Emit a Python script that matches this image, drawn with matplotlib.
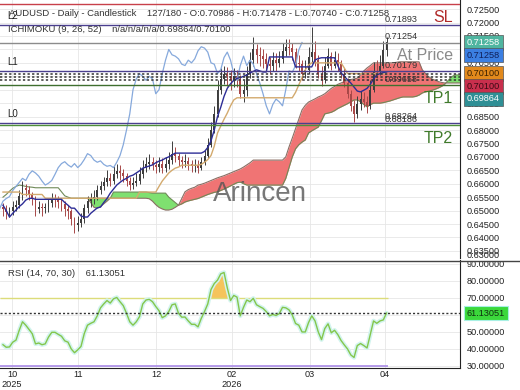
import numpy as np
import matplotlib
matplotlib.use('Agg')
import matplotlib.pyplot as plt
import matplotlib.transforms as mtransforms
from matplotlib.lines import Line2D
from matplotlib.ticker import FormatStrFormatter

plt.rcParams['font.family'] = ['Liberation Sans', 'DejaVu Sans']

# AUDUSD daily candles, prices in pips (x 1e-4)
opens = [6512, 6505, 6495, 6498, 6515, 6522, 6555, 6585, 6575, 6560,
         6545, 6505, 6515, 6508, 6512, 6528, 6540, 6538, 6532, 6525,
         6505, 6497, 6468, 6445, 6455, 6470, 6508, 6535, 6545, 6552,
         6575, 6590, 6605, 6620, 6612, 6635, 6648, 6640, 6628, 6610,
         6595, 6602, 6612, 6635, 6660, 6675, 6682, 6670, 6662, 6675,
         6660, 6672, 6690, 6712, 6705, 6688, 6680, 6685, 6672, 6665,
         6668, 6660, 6680, 6705, 6745, 6800, 6860, 6950, 6990, 7010,
         7000, 6985, 7000, 6990, 6935, 6950, 7010, 7060, 7100, 7080,
         7075, 7065, 7045, 7040, 7060, 7050, 7065, 7095, 7110, 7105,
         7090, 7050, 7045, 7010, 7025, 7070, 7090, 7060, 7010, 6985,
         7040, 7075, 7040, 7060, 7045, 7010, 6975, 6935, 6890, 6860,
         6895, 6915, 6905, 6890, 6950, 7020, 7015, 7040, 7098.6]
highs = [6530, 6520, 6515, 6535, 6540, 6575, 6610, 6600, 6590, 6570,
         6555, 6535, 6530, 6528, 6545, 6565, 6560, 6555, 6545, 6535,
         6520, 6505, 6475, 6478, 6490, 6525, 6555, 6565, 6575, 6595,
         6612, 6625, 6650, 6640, 6665, 6672, 6668, 6655, 6640, 6625,
         6625, 6640, 6662, 6688, 6700, 6710, 6700, 6690, 6700, 6695,
         6700, 6718, 6760, 6735, 6715, 6705, 6710, 6700, 6690, 6692,
         6688, 6700, 6725, 6770, 6830, 6890, 6985, 7030, 7040, 7035,
         7025, 7030, 7025, 7005, 6985, 7040, 7090, 7145, 7120, 7110,
         7100, 7085, 7070, 7090, 7085, 7095, 7125, 7138, 7140, 7125,
         7105, 7080, 7060, 7060, 7110, 7184, 7130, 7080, 7040, 7070,
         7105, 7090, 7095, 7085, 7060, 7030, 6995, 6950, 6910, 6925,
         6945, 6940, 6925, 6985, 7055, 7060, 7080, 7130, 7147.8]
lows = [6480, 6470, 6475, 6485, 6500, 6510, 6540, 6555, 6540, 6520,
        6480, 6490, 6480, 6490, 6495, 6515, 6515, 6510, 6500, 6480,
        6470, 6445, 6416, 6425, 6440, 6455, 6490, 6515, 6525, 6540,
        6560, 6575, 6590, 6590, 6600, 6620, 6615, 6605, 6590, 6575,
        6580, 6590, 6600, 6620, 6645, 6655, 6650, 6640, 6645, 6640,
        6645, 6655, 6675, 6680, 6665, 6660, 6662, 6650, 6645, 6642,
        6640, 6650, 6670, 6695, 6735, 6790, 6850, 6935, 6970, 6965,
        6950, 6960, 6960, 6920, 6905, 6925, 6995, 7040, 7050, 7040,
        7030, 7020, 7010, 7020, 7020, 7035, 7050, 7075, 7080, 7060,
        7030, 7020, 6985, 6995, 7010, 7050, 7040, 6995, 6965, 6975,
        7030, 7025, 7030, 7020, 6995, 6960, 6920, 6870, 6830, 6845,
        6875, 6885, 6865, 6880, 6940, 6995, 7005, 7030, 7074.0]
closes = [6505, 6495, 6498, 6515, 6522, 6555, 6585, 6575, 6560, 6545,
          6505, 6515, 6508, 6512, 6528, 6540, 6538, 6532, 6525, 6505,
          6497, 6468, 6445, 6455, 6470, 6508, 6535, 6545, 6552, 6575,
          6590, 6605, 6620, 6612, 6635, 6648, 6640, 6628, 6610, 6595,
          6602, 6612, 6635, 6660, 6675, 6682, 6670, 6662, 6675, 6660,
          6672, 6690, 6712, 6705, 6688, 6680, 6685, 6672, 6665, 6668,
          6660, 6680, 6705, 6745, 6800, 6860, 6950, 6990, 7010, 7000,
          6985, 7000, 6990, 6935, 6950, 7010, 7060, 7100, 7080, 7075,
          7065, 7045, 7040, 7060, 7050, 7065, 7095, 7110, 7105, 7090,
          7050, 7045, 7010, 7025, 7070, 7090, 7060, 7010, 6985, 7040,
          7075, 7040, 7060, 7045, 7010, 6975, 6935, 6890, 6860, 6895,
          6915, 6905, 6890, 6950, 7020, 7015, 7040, 7098, 7125.8]

# Ichimoku (9, 26, 52) lines, pips
tenkan = [6520, 6500, 6476, 6490, 6502, 6515, 6525, 6539, 6545, 6546,
          6542, 6542, 6542, 6542, 6542, 6542, 6542, 6542, 6542, 6530,
          6520, 6509, 6509, 6495, 6480, 6476, 6476, 6490, 6500, 6510,
          6513, 6530, 6545, 6565, 6580, 6595, 6605, 6614, 6620, 6628,
          6632, 6640, 6648, 6658, 6662, 6666, 6670, 6678, 6684, 6688,
          6695, 6700, 6707, 6714, 6714, 6714, 6714, 6714, 6714, 6714,
          6714, 6714, 6720, 6735, 6760, 6800, 6850, 6885, 6925, 6955,
          6972, 6985, 6992, 6995, 7000, 7005, 7012, 7018, 7024, 7020,
          7016, 7016, 7072, 7072, 7072, 7072, 7072, 7072, 7072, 7072,
          7035, 7035, 7035, 7035, 7035, 7035, 7061, 7066, 7069, 7069,
          7069, 7069, 7069, 7040, 7013, 7000, 6987, 6975, 6960, 6945,
          6942, 6948, 6955, 6970, 6990, 7005, 7010, 7014, 7016]
kijun = [6569, 6569, 6569, 6569, 6569, 6569, 6560, 6560, 6560, 6560,
         6560, 6560, 6560, 6546, 6546, 6546, 6546, 6546, 6546, 6546,
         6546, 6546, 6546, 6546, 6546, 6546, 6546, 6546, 6546, 6546,
         6546, 6546, 6546, 6546, 6546, 6546, 6546, 6546, 6546, 6546,
         6546, 6546, 6569, 6569, 6569, 6569, 6569, 6569, 6590, 6610,
         6625, 6640, 6650, 6658, 6662, 6669, 6669, 6669, 6669, 6669,
         6669, 6672, 6680, 6690, 6705, 6740, 6789, 6815, 6840, 6863,
         6890, 6912, 6920, 6920, 6920, 6920, 6920, 6920, 6920, 6920,
         6920, 6920, 6920, 6920, 6920, 6920, 6920, 6920, 6920, 6920,
         6940, 6968, 6995, 7024, 7042, 7050, 7050, 7050, 7050, 7050,
         7050, 7050, 7050, 7050, 7050, 7031, 7010, 7010, 7010, 7010,
         7010, 7010, 7010, 7010, 7010, 7010, 7010, 7010, 7010]
span_a = [6550, 6560, 6572, 6583, 6590, 6595, 6593, 6590, 6588, 6587,
          6585, 6585, 6585, 6585, 6585, 6585, 6585, 6585, 6570, 6555,
          6550, 6546, 6546, 6546, 6546, 6546, 6546, 6546, 6546, 6546,
          6546, 6546, 6546, 6546, 6569, 6569, 6569, 6569, 6569, 6569,
          6569, 6569, 6569, 6569, 6569, 6567, 6565, 6565, 6565, 6565,
          6565, 6550, 6540, 6530, 6520, 6525, 6532, 6536, 6539, 6542,
          6545, 6550, 6555, 6560, 6564, 6568, 6570, 6575, 6580, 6586,
          6592, 6598, 6604, 6606, 6600, 6595, 6595, 6595, 6595, 6595,
          6595, 6595, 6595, 6595, 6595, 6595, 6595, 6620, 6660, 6700,
          6730, 6745, 6755, 6763, 6789, 6797, 6804, 6811, 6835, 6860,
          6863, 6866, 6872, 6880, 6886, 6892, 6898, 6905, 6912, 6912,
          6905, 6895, 6886, 6895, 6900, 6900, 6900, 6902, 6905, 6908,
          6912, 6916, 6920, 6923, 6923, 6923, 6923, 6925, 6930, 6938,
          6942, 6945, 6948, 6952, 6957, 6963, 6972, 6985, 6998, 7005,
          7005, 7005, 7005, 7005, 7005]
span_b = [None] * 26 + [
          6546, 6530, 6512, 6509,
          6515, 6525, 6535, 6546, 6546, 6546, 6546, 6546, 6546, 6546,
          6546, 6546, 6546, 6546, 6546, 6544, 6535, 6522, 6512, 6506,
          6502, 6502, 6505, 6512, 6520, 6545, 6570, 6578, 6583, 6587,
          6595, 6598, 6602, 6607, 6612, 6617, 6622, 6626, 6630, 6635,
          6640, 6645, 6650, 6655, 6662, 6670, 6678, 6688, 6688, 6688,
          6688, 6688, 6688, 6688, 6688, 6688, 6688, 6700, 6737, 6770,
          6805, 6840, 6875, 6892, 6904, 6910, 6916, 6923, 6928, 6935,
          6945, 6955, 6962, 6970, 6975, 6980, 6985, 6988, 6990, 6993,
          7005, 7020, 7031, 7040, 7050, 7050, 7050, 7050, 7050, 7050,
          7050, 7052, 7054, 7054, 7054, 7054, 7054, 7054, 7054, 7024,
          7010, 6998, 6990, 6985, 6980, 6977, 6975, 6975, 6975, 6975,
          6975, 6975, 6975, 6975, 6975]

rsi = [42.5, 41, 41.2, 44, 45.2, 51, 56, 54, 51.5, 49,
       43, 43.5, 42.5, 43, 47, 49.8, 49.8, 48.6, 47.5, 44.8,
       44, 40, 37.8, 39.5, 41.5, 49, 54, 55.1, 56, 59.5,
       64.2, 66.5, 68.5, 67, 69.5, 70.3, 67.8, 65.5, 61, 56,
       54, 56, 59, 66.5, 68.8, 69.2, 67.8, 65, 62.5, 58.4,
       59.5, 62, 66, 66.5, 61, 58.7, 58.8, 56.5, 54.5, 54.5,
       53, 58, 62, 66.5, 75, 78.5, 80.5, 84.2, 85, 76,
       68.5, 71.5, 70.5, 59.5, 64.5, 68.8, 67.8, 69.8, 66, 64.9,
       63.9, 62, 59.5, 60.3, 59.7, 60.8, 64.5, 64.2, 63, 60,
       55, 54, 50, 50, 55.5, 59.5, 56.5, 50, 45.5, 52,
       54.8, 49.5, 51, 48.5, 45, 42.4, 40, 36.5, 35, 42,
       43.2, 42, 40.6, 48.5, 56.5, 55.1, 56.5, 57.1, 61.13051]

# month labels at bar positions
month_pos = [2.8, 23.1, 47.1, 70.5, 94.5, 117.5]
month_labels = ['10\n2025', '11', '12', '02\n2026', '03', '04']

# trade levels
level_names = ['SL', 'L2', 'At Price', 'L1', 'TP1', 'L0', 'TP2']
level_prices = [0.72690, 0.71893, 0.71254, 0.70179, 0.69658, 0.68264, 0.68186]
level_colors = ['#c8404a', '#4b3f8f', '#8c8c8c', '#4b3f8f', '#3f6f2f', '#4b3f8f', '#4f8f3a']
dotted_levels = [0.70100, 0.69980, 0.69864]

# price boxes on the right axis
box_prices = [0.71258, 0.71258, 0.70100, 0.70100, 0.69864]
box_faces = ['#4fb5a0', '#3b7fe2', '#e2891c', '#c82f4d', '#2f8f95']
box_texts = ['white', '#10205a', '#3a2000', '#3a0a14', 'white']

o = np.array(opens) / 1e4
h = np.array(highs) / 1e4
l = np.array(lows) / 1e4
c = np.array(closes) / 1e4
n = len(c)
idx = np.arange(n)

fig = plt.figure(figsize=(5.2, 3.9), dpi=100)
W, H = 520.0, 390.0
ax = fig.add_axes([0, 1 - 258 / H, 460 / W, 258 / H])
ax2 = fig.add_axes([0, 1 - 368 / H, 460 / W, 108 / H])

xlim = (-0.92, 140.6)
lab_fs = 6.6

# ---------------- main panel ----------------
ax.set_xlim(*xlim)
ax.set_ylim(0.63235, 0.7284)
ax.set_yticks(np.arange(0.635, 0.72501, 0.005))
ax.yaxis.tick_right()
ax.yaxis.set_major_formatter(FormatStrFormatter('%.5f'))
ax.tick_params(axis='y', length=0, pad=5, labelsize=lab_fs, labelcolor='#222')
ax.set_xticks(month_pos)
ax.tick_params(axis='x', length=0, labelbottom=False)
ax.grid(color='#e6e6e6', lw=0.6)
ax.set_axisbelow(True)
for s in ['left', 'top', 'bottom']:
    ax.spines[s].set_visible(False)
ax.spines['right'].set_color('#222')

# cloud
ci = np.arange(len(span_a))
sa = np.array(span_a, dtype=float) / 1e4
sb = np.array(span_b, dtype=float) / 1e4
ax.fill_between(ci, sa, sb, where=sa >= sb, interpolate=True, color='#7fe070', lw=0, zorder=1)
ax.fill_between(ci, sa, sb, where=sa < sb, interpolate=True, color='#f07474', lw=0, zorder=1)
ax.plot(ci, sa, color='#6f8a58', lw=0.8, zorder=1.5)
ax.plot(ci, sb, color='#8a6e64', lw=0.8, zorder=1.5)

# candles
up = c >= o
cols = np.where(up, '#3d3d3d', '#a84848')
ax.vlines(idx, l, h, colors=cols, lw=0.7, zorder=3)
ax.bar(idx, np.maximum(np.abs(c - o), 0.0001), bottom=np.minimum(o, c),
       width=0.5, color=cols, lw=0, zorder=3)

# ichimoku lines
ax.plot(idx - 26, c, color='#86a9dc', lw=0.9, zorder=3.5)
ax.plot(idx, np.array(kijun) / 1e4, color='#d3aa6e', lw=1.0, zorder=3.6)
ax.plot(idx, np.array(tenkan) / 1e4, color='#2d2d96', lw=1.0, zorder=3.7)

# levels
trans = mtransforms.blended_transform_factory(ax.transAxes, ax.transData)
for p in dotted_levels:
    ax.axhline(p, color='#333333', lw=1.1, ls=(0, (1.5, 1.5)), zorder=4)
for name, p, col in zip(level_names, level_prices, level_colors):
    ax.axhline(p, color=col, lw=1.0, zorder=4)
    if name.startswith('L'):
        ax.annotate(name, xy=(7 / 460, p), xycoords=trans, xytext=(0, 6.5),
                    textcoords='offset points', ha='left', va='center',
                    fontsize=7, color='#222', zorder=6)
    else:
        tcol = {'SL': '#b02a2a', 'At Price': '#8a8a8a'}.get(name, '#3f7a2a')
        ax.annotate(name, xy=(453 / 460, p), xycoords=trans, xytext=(0, -9.4),
                    textcoords='offset points', ha='right', va='center',
                    fontsize=11.5, color=tcol, zorder=6)
    if name != 'SL':
        ax.annotate('%.5f' % p, xy=(385 / 460, p), xycoords=trans, xytext=(0, 4.3),
                    textcoords='offset points', ha='left', va='center',
                    fontsize=lab_fs, color='#333', zorder=6)

ax.text(260 / 460, (258 - 194) / 258, 'Arincen', transform=ax.transAxes,
        ha='center', va='center', fontsize=20, color='#555555', alpha=0.8, zorder=7)

ax.text(9 / 460, (258 - 13) / 258,
        'AUDUSD - Daily - Candlestick    127/180 - O:0.70986 - H:0.71478 - L:0.70740 - C:0.71258',
        transform=ax.transAxes, ha='left', va='center', fontsize=6.8, color='#333', zorder=7)
ax.text(8 / 460, (258 - 29) / 258, 'ICHIMOKU (9, 26, 52)    n/a/n/a/n/a/0.69864/0.70100',
        transform=ax.transAxes, ha='left', va='center', fontsize=6.8, color='#333', zorder=7)

# stacked price boxes on the right axis
fig.canvas.draw()
prev = None
rtrans = mtransforms.blended_transform_factory(ax.transAxes, ax.transData)
for p, fc, tc in zip(box_prices, box_faces, box_texts):
    ypix = ax.transData.transform((0, p))[1]
    y = ypix if prev is None else min(ypix, prev - 12.7)
    prev = y
    ax.annotate('%.5f' % p, xy=(1, p), xycoords=rtrans,
                xytext=(5, (y - ypix) * 72 / 100), textcoords='offset points',
                ha='left', va='center', fontsize=lab_fs, color=tc, zorder=8,
                annotation_clip=False,
                bbox=dict(boxstyle='square,pad=0.3', fc=fc, ec='#555555', lw=0.5))

fig.text(467 / W, 1 - 255.5 / H, '0.63000', ha='left', va='center', fontsize=lab_fs, color='#222')

# ---------------- RSI panel ----------------
r = np.array(rsi)
ax2.set_xlim(*xlim)
ax2.set_ylim(28.8, 92.35)
ax2.set_yticks([30, 40, 50, 60, 70, 80, 90])
ax2.yaxis.tick_right()
ax2.yaxis.set_major_formatter(FormatStrFormatter('%.5f'))
ax2.tick_params(axis='y', length=0, pad=5, labelsize=lab_fs, labelcolor='#222')
ax2.set_xticks(month_pos)
ax2.set_xticklabels(month_labels)
ax2.tick_params(axis='x', length=0, pad=1.5, labelsize=lab_fs, labelcolor='#222')
ax2.grid(color='#e6e6e6', lw=0.6)
ax2.set_axisbelow(True)
for s in ['left', 'top']:
    ax2.spines[s].set_visible(False)
ax2.spines['right'].set_color('#222')
ax2.spines['bottom'].set_color('#222')

ax2.hlines(70, xlim[0], idx[-1] + 0.5, color='#dcdc7a', lw=1.0)
ax2.hlines(30, xlim[0], idx[-1] + 0.5, color='#a98ae6', lw=1.2)
ax2.fill_between(idx, 70, r, where=r > 70, interpolate=True, color='#f5c45c', lw=0)
ax2.plot(idx, r, color='#d2f4ee', lw=3.2, solid_capstyle='round')
ax2.plot(idx, r, color='#84c64c', lw=1.0)
ax2.axhline(r[-1], color='#333333', lw=1.0, ls=(0, (1.5, 1.5)))

ax2.annotate('%.5f' % r[-1], xy=(1, r[-1]), xycoords=mtransforms.blended_transform_factory(ax2.transAxes, ax2.transData),
             xytext=(5, 0), textcoords='offset points', ha='left', va='center',
             fontsize=lab_fs, color='#103010', annotation_clip=False, zorder=8,
             bbox=dict(boxstyle='square,pad=0.3', fc='#3bd83b', ec='#a8f0e4', lw=0.8))
ax2.text(8 / 460, (368 - 273) / 108, 'RSI (14, 70, 30)    %.5f' % r[-1],
         transform=ax2.transAxes, ha='left', va='center', fontsize=6.8, color='#333')

# separator between panels, full width
fig.add_artist(Line2D([0, 1], [1 - 260.5 / H] * 2, color='#444444', lw=1.0))

fig.savefig('out.png', dpi=100)
